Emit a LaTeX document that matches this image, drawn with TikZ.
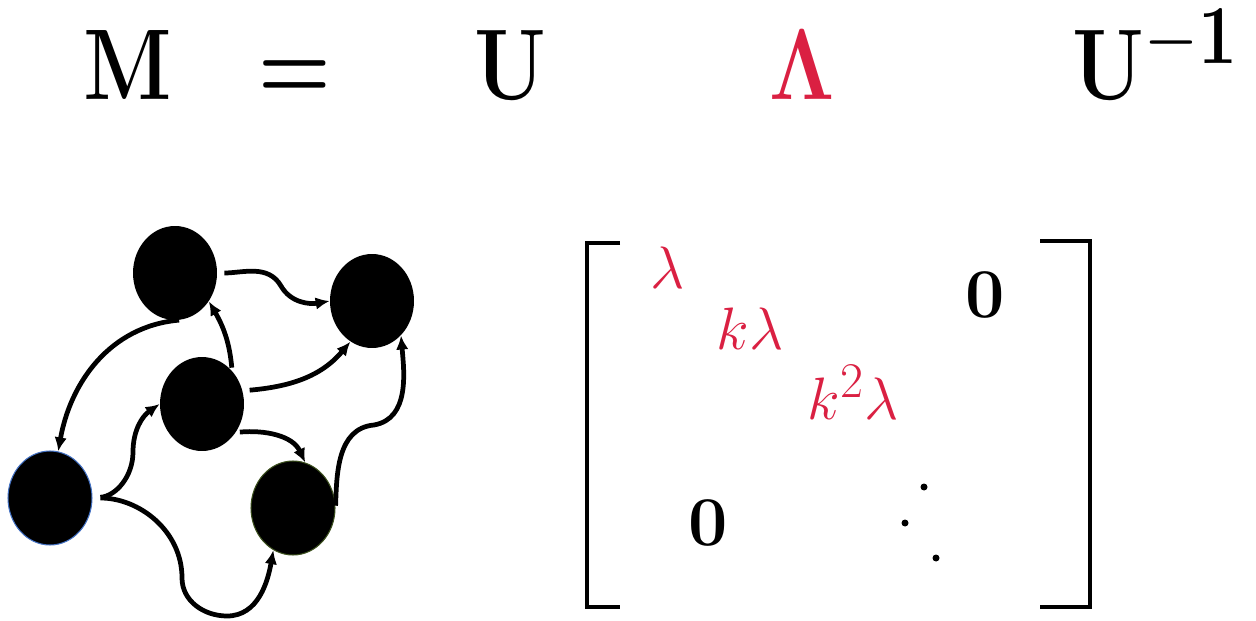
\documentclass[tikz,border=0pt]{standalone}
\usepackage{xcolor}
\usepackage{amsmath}
\usepackage{amssymb}
\usepackage{tikz}
\usetikzlibrary{shapes.geometric, arrows.meta, positioning, calc}

\definecolor{lamred}{RGB}{218,32,66}
\definecolor{rimblue}{RGB}{68,114,196}
\definecolor{rimgreen}{RGB}{60,80,30}

\begin{document}
\begin{tikzpicture}[
    x=0.02cm, y=-0.02cm,
    vert/.style={ellipse, fill=black, minimum width=1.68cm, minimum height=1.88cm, inner sep=0pt},
    arrow/.style={-{Latex[length=0.28cm,width=0.25cm]}, line width=2.7pt},
    bracket/.style={line width=2.8pt},
    eq/.style={anchor=base, inner sep=0pt, font=\Huge, xscale=1.9, yscale=2.3},
    entry/.style={anchor=base, text=lamred, font=\Huge, scale=1.37},
    zero/.style={anchor=base, font=\Huge, scale=1.6}
]
    \useasboundingbox (0,0) rectangle (1256,621);

    % Decomposition at top
    \node[eq] (eqM) at (128,100) {$\mathbf{M}$};
    \node[eq] (eqEq) at (295,100) {$\boldsymbol{=}$};
    \node[eq] (eqU) at (510,100) {$\mathbf{U}$};
    \node[eq, text=lamred] (eqLam) at (802,100) {$\mathbf{\Lambda}$};
    \node[eq, anchor=base west] (eqUinv) at (1072,100) {$\mathbf{U}^{\mathbf{-1}}$};

    % Graph nodes
    \node[vert] (A) at (175,273) {};
    \node[vert] (B) at (372,301) {};
    \node[vert] (C) at (202,404) {};
    \node[vert, draw=rimblue, line width=0.6pt] (D) at (50,498) {};
    \node[vert, draw=rimgreen, line width=0.6pt] (E) at (293,508) {};

    % Kink points of the bent edges
    \coordinate (k1) at (281,286);
    \coordinate (k2) at (133,452);
    \coordinate (k3) at (182,578);
    \coordinate (k4) at (227,616);
    \coordinate (k5) at (374,425);

    % Edges
    \draw[arrow, shorten <=0.14cm] (A.east) to[out=0,in=120] (k1) to[out=-60,in=190] (B.west);
    \draw[arrow] (A.-85) to[out=185,in=80] (D.80);
    \draw[arrow, shorten <=0.06cm] (C.48) to[out=95,in=-60] (A.-40);
    \draw[arrow, shorten <=0.14cm] (C.18) to[out=5,in=-130] (B.-118);
    \draw[arrow, shorten <=0.08cm] (C.-40) to[out=5,in=115] (E.75);
    \draw[arrow, shorten <=0.16cm] (D.east) to[out=5,in=-90] (k2) to[out=90,in=215] (C.west);
    \draw[arrow, shorten <=0.16cm] (D.east) to[out=0,in=90] (k3) to[out=-90,in=180] (k4) to[out=0,in=-100] (E.-115);
    \draw[arrow, shorten <=0.12cm] (E.-5) to[out=88,in=185] (k5) to[out=10,in=-85] (B.-50);

    % Diagonal matrix
    \draw[bracket] (620,243) -| (587,607) -- (620,607);
    \draw[bracket] (1040,241) -| (1090,607) -- (1040,607);
    \node[entry] (l1) at (668,289) {$\lambda$};
    \node[entry] (l2) at (750,349) {$k\lambda$};
    \node[entry] (l3) at (853,419) {$k^2\lambda$};
    \node[zero] (zUp) at (985,317) {$\mathbf{0}$};
    \node[zero] (zLow) at (708,545) {$\mathbf{0}$};
    \foreach \px/\py in {924/487, 905/523, 936/558}
        \fill (\px,\py) circle (0.07cm);
\end{tikzpicture}
\end{document}
